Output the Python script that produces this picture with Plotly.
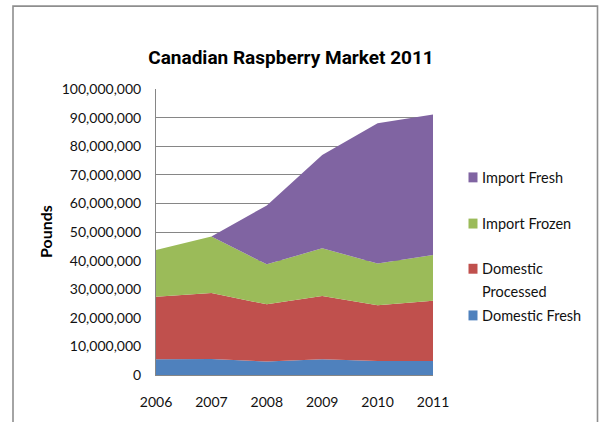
import plotly.graph_objects as go

# Canadian raspberry supply by source, in pounds
years = [2006, 2007, 2008, 2009, 2010, 2011]
domestic_fresh = [5_500_000, 5_600_000, 4_700_000, 5_500_000, 4_900_000, 4_900_000]
domestic_processed = [21_900_000, 23_100_000, 20_000_000, 22_100_000, 19_500_000, 21_100_000]
import_frozen = [16_350_000, 19_700_000, 14_000_000, 16_700_000, 14_600_000, 16_000_000]
import_fresh = [0, 0, 20_600_000, 32_600_000, 49_000_000, 49_100_000]

series_names = ["Domestic Fresh", "Domestic Processed", "Import Frozen", "Import Fresh"]
series_values = [domestic_fresh, domestic_processed, import_frozen, import_fresh]
series_colors = ["#4F81BD", "#C0504D", "#9BBB59", "#8064A2"]

y_ticks = list(range(0, 100_000_001, 10_000_000))

W, H = 599, 422
ML, MR, MT, MB = 156, 166, 89, 45
PW, PH = W - ML - MR, H - MT - MB
TEXT = "#111111"


def px_x(px):
    return (px - ML) / PW


def px_y(py):
    return (H - MB - py) / PH


fig = go.Figure()
for name, vals, col in zip(series_names, series_values, series_colors):
    fig.add_trace(go.Scatter(
        x=years, y=vals, name=name, stackgroup="one", mode="none",
        fillcolor=col, line=dict(width=0), showlegend=False,
        hovertemplate="%{x}: %{y:,}<extra>" + name + "</extra>",
    ))

shapes = []
annotations = []

# outer chart frame (open at the bottom edge)
shapes.append(dict(
    type="path", xref="paper", yref="paper",
    path=f"M {px_x(13)},{px_y(430)} L {px_x(13)},{px_y(5.5)} "
         f"L {px_x(597.5)},{px_y(5.5)} L {px_x(597.5)},{px_y(430)}",
    line=dict(color="#8e8e8e", width=1.6),
))

# legend, top entry = top of the stack
legend_rows = [
    ("Import Fresh", ["Import Fresh"], 178),
    ("Import Frozen", ["Import Frozen"], 224.5),
    ("Domestic Processed", ["Domestic", "Processed"], 270),
    ("Domestic Fresh", ["Domestic Fresh"], 317),
]
color_of = dict(zip(series_names, series_colors))
for name, lines, cy in legend_rows:
    shapes.append(dict(
        type="rect", xref="paper", yref="paper",
        x0=px_x(468.5), x1=px_x(477.5), y0=px_y(cy - 5), y1=px_y(cy + 5),
        fillcolor=color_of[name], line=dict(width=0),
    ))
    for i, txt in enumerate(lines):
        annotations.append(dict(
            text=txt, xref="paper", yref="paper", x=px_x(480), y=px_y(cy + 23 * i),
            xanchor="left", yanchor="middle", showarrow=False,
            font=dict(family="Lato", size=14.5, color=TEXT),
        ))

annotations.append(dict(
    text="<b>Pounds</b>", xref="paper", yref="paper", x=px_x(45), y=px_y(233),
    xanchor="center", yanchor="middle", textangle=-90, showarrow=False,
    font=dict(family="Lato", size=16, color="#000000"),
))

fig.update_layout(
    width=W, height=H,
    margin=dict(l=ML, r=MR, t=MT, b=MB, pad=0),
    paper_bgcolor="white", plot_bgcolor="white",
    showlegend=False,
    title=dict(
        text="<b>Canadian Raspberry Market 2011</b>",
        x=291 / W, y=1 - 57 / H, xanchor="center", yanchor="middle",
        xref="container", yref="container",
        font=dict(family="Roboto", size=19, color="#000000"),
    ),
    xaxis=dict(
        range=[2006, 2011], tickvals=years, ticktext=[str(y) for y in years],
        showgrid=False, zeroline=False, showline=True, linecolor="#868686",
        ticks="", ticklabelstandoff=14,
        tickfont=dict(family="Lato", size=14, color=TEXT),
    ),
    yaxis=dict(
        range=[0, 100_000_000], tickvals=y_ticks, tickformat=",d",
        showgrid=True, gridcolor="#868686", gridwidth=1, zeroline=False,
        showline=True, linecolor="#868686", ticks="", ticklabelstandoff=11,
        tickfont=dict(family="Lato", size=14, color=TEXT),
    ),
    shapes=shapes, annotations=annotations,
)

fig.write_html("out.html")
